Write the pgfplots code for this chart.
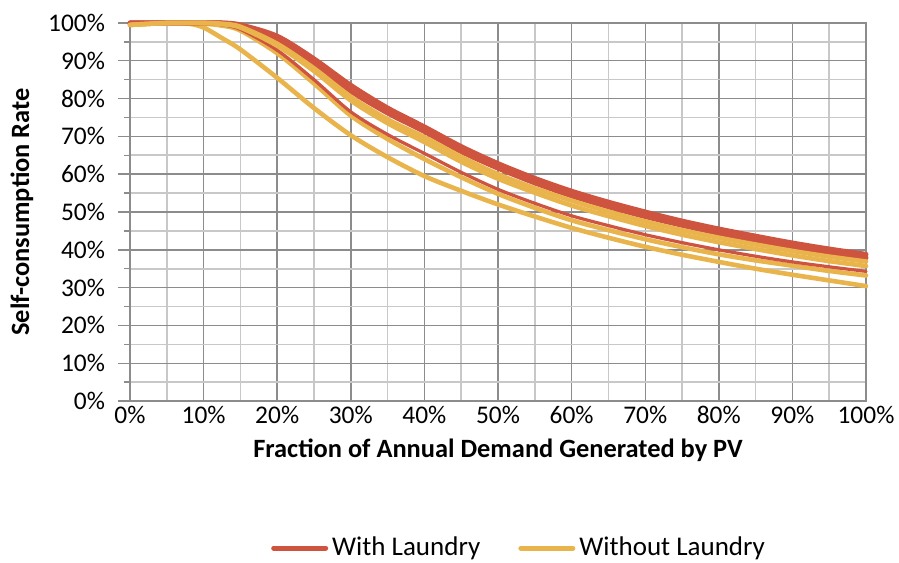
\documentclass[border=0pt]{standalone}
\usepackage{pgfplots}
\pgfplotsset{compat=1.18}
\usepackage{fontspec}
\setmainfont{Carlito}
\definecolor{redl}{HTML}{CF543F}
\definecolor{yell}{HTML}{E9B44C}
\definecolor{majg}{HTML}{8C8C8C}
\definecolor{ming}{HTML}{C8C8C8}
\begin{document}
\begin{tikzpicture}
\begin{axis}[
  name=ax,
  scale only axis,
  width=368pt, height=189pt,
  xmin=0, xmax=100, ymin=0, ymax=100,
  xtick={0,10,...,100}, ytick={0,10,...,100},
  minor xtick={5,15,...,95}, minor ytick={5,15,...,95},
  grid=both,
  major grid style={draw=majg, line width=0.7pt},
  minor grid style={draw=ming, line width=0.8pt},
  axis line style={draw=majg, line width=0.7pt},
  xtick style={draw=none},
  minor tick style={draw=none},
  ytick style={draw=majg, line width=0.7pt},
  tick align=outside,
  major tick length=6pt,
  ytick pos=left,
  /pgf/number format/assume math mode=true,
  xticklabel={\pgfmathprintnumber{\tick}\%},
  yticklabel={\pgfmathprintnumber{\tick}\%},
  tick label style={font=\fontsize{12.7}{14}\selectfont, text=black},
  xticklabel style={yshift=7pt},
  yticklabel style={xshift=-3pt},
  xlabel={\textbf{Fraction of Annual Demand Generated by PV}},
  ylabel={\textbf{Self-consumption Rate}},
  label style={font=\fontsize{13.2}{15}\selectfont},
  xlabel style={at={(0.5,0)}, anchor=center, yshift=-24.5pt},
  ylabel style={at={(0,0.5)}, anchor=center, yshift=54pt},
  legend columns=2,
  legend style={at={(0.53,-0.389)}, anchor=center, draw=none, fill=none,
    font=\fontsize{13.5}{15}\selectfont,
    /tikz/every even column/.append style={column sep=17pt}},
  legend image code/.code={\draw[#1, line width=2.5pt, line cap=round] (0pt,0pt) -- (26pt,0pt);},
  every axis plot/.append style={smooth, line cap=round},
  clip=false,
]
% bottom yellow G
\addplot[yell, line width=2.3pt, forget plot] coordinates {
(0,99.5)(5,100)(8,99.8)(10,98.8)(12.5,96)(15,93)(20,85.5)(25,77.5)(30,70.3)(35,64.5)(40,59.5)(45,55.6)(50,52)(55,48.8)(60,45.8)(65,43.2)(70,40.8)(75,38.7)(80,36.8)(85,35)(90,33.4)(95,31.9)(100,30.4)};
% Y3
\addplot[yell, line width=2.3pt, forget plot] coordinates {
(0,99.5)(5,100)(10,99.8)(12.5,99.3)(15,98)(20,92)(25,84)(30,75.5)(35,69.3)(40,64)(45,59.2)(50,54.8)(55,51.1)(60,47.8)(65,45.2)(70,42.8)(75,40.7)(80,38.8)(85,37.2)(90,35.8)(95,34.4)(100,33.2)};
% R3 thin red
\addplot[redl, line width=1.6pt, forget plot] coordinates {
(0,100)(5,100)(10,100)(12.5,99.5)(15,98.3)(20,92.8)(25,85)(30,76.5)(35,70.5)(40,65.5)(45,60.5)(50,56)(55,52.3)(60,49)(65,46.4)(70,44)(75,41.9)(80,40)(85,38.3)(90,36.8)(95,35.5)(100,34.3)};
% R1, R2 red band
\addplot[redl, line width=2.5pt] coordinates {
(0,100)(5,100)(10,100)(12.5,100)(15,99.5)(20,96.5)(25,90.5)(30,83.5)(35,77.5)(40,72.5)(45,67.3)(50,62.8)(55,58.9)(60,55.5)(65,52.6)(70,50)(75,47.6)(80,45.5)(85,43.6)(90,41.8)(95,40.2)(100,38.8)};
\addplot[redl, line width=2.5pt, forget plot] coordinates {
(0,100)(5,100)(10,100)(12.5,100)(15,99.2)(20,95.5)(25,89.3)(30,82)(35,76.2)(40,71.3)(45,66)(50,61.6)(55,57.7)(60,54.3)(65,51.4)(70,48.8)(75,46.5)(80,44.4)(85,42.5)(90,40.8)(95,39.3)(100,37.9)};
% Y1, Y2
\addplot[yell, line width=2.3pt] coordinates {
(0,99.5)(5,100)(10,100)(12.5,99.8)(15,99)(20,94.5)(25,88)(30,80.5)(35,74.5)(40,69.8)(45,64.6)(50,60)(55,56.3)(60,53)(65,50.1)(70,47.5)(75,45.2)(80,43.2)(85,41.4)(90,39.7)(95,38.2)(100,36.9)};
\addplot[yell, line width=2.3pt, forget plot] coordinates {
(0,99.5)(5,100)(10,100)(12.5,99.7)(15,98.8)(20,94)(25,87.3)(30,79.5)(35,73.5)(40,68.5)(45,63.3)(50,58.8)(55,55.1)(60,51.7)(65,48.9)(70,46.3)(75,44)(80,42)(85,40.2)(90,38.5)(95,37)(100,35.7)};
\legend{With Laundry, Without Laundry}
\end{axis}
\pgfresetboundingbox
\path ([xshift=-65pt,yshift=-80.5pt]ax.south west) rectangle ([xshift=16.5pt,yshift=11.5pt]ax.north east);
\end{tikzpicture}
\end{document}
